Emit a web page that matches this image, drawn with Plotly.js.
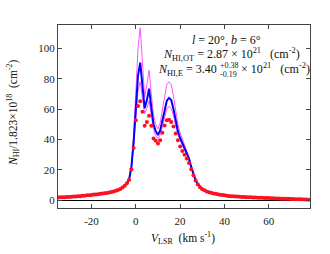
<!DOCTYPE html>
<html>
<head>
<meta charset="utf-8">
<script src="https://cdn.plot.ly/plotly-3.0.1.min.js"></script>
<style>html,body{margin:0;padding:0;background:#fff;}#chart{width:330px;height:254px;}</style>
</head>
<body>
<div id="chart"></div>
<script>
// Velocity channels (km/s)
const vel = [-35,-34,-33,-32,-31,-30,-29,-28,-27,-26,-25,-24,-23,-22,-21,-20,-19,-18,-17,-16,-15,-14,-13,-12,-11,-10,-9,-8,-7,-6,-5,-4,
  -3,-2,-1,0,1,2,3,4,5,6,7,8,9,10,11,12,13,14,15,16,17,18,19,20,21,22,23,24,25,26,27,28,29,30,
  31,32,33,34,35,36,37,38,39,40,41,42,43,44,45,46,47,48,49,50,51,52,53,54,55,56,57,58,59,60,61,62,63,64,65,66,67,68,69,70,71,72,73,74,75,76,77,78];

// Red dots: optically-thin column density
const nObs = [1.9,2.0,2.0,2.1,2.2,2.3,2.4,2.5,2.6,2.7,2.8,3.0,3.1,3.3,3.4,3.6,3.8,3.9,4.1,4.3,4.5,4.7,4.9,5.2,5.5,5.9,6.3,6.8,7.5,8.4,9.6,11.3,
  13.5,20.5,34.5,52.7,62,65.2,58.2,49,51.6,55.6,49,40.7,39.2,37.4,39.6,44.4,49.2,52.7,53,51.5,48.5,44,39.5,35.5,32.5,30,27.5,24.5,20.5,16.5,13,10.5,8.6,7.4,
  6.6,5.9,5.4,5.0,4.6,4.3,4.0,3.7,3.5,3.3,3.1,2.9,2.8,2.7,2.6,2.5,2.4,2.3,2.2,2.1,2.0,2.0,1.9,1.9,1.8,1.8,1.7,1.6,1.6,1.5,1.4,1.4,1.3,1.3,1.2,1.1,1.1,1.0,1.0,0.9,0.9,0.8,0.8,0.7,0.7,0.6,0.6,0.5];

// Blue line: estimated column density (best value)
const nBest = [1.9,2.0,2.0,2.1,2.2,2.3,2.4,2.5,2.6,2.7,2.8,3.0,3.1,3.3,3.4,3.6,3.8,3.9,4.1,4.3,4.5,4.7,4.9,5.2,5.5,5.9,6.3,6.8,7.5,8.4,9.6,11.3,
  14,21.5,38,62,82,90.6,75,60.5,66,73.5,61,50,45.5,43,46,53,60,65.5,67.4,66,60,52,45.5,41,37.5,34.5,31.5,27.5,22,17,13.2,10.6,8.7,7.5,
  6.6,5.9,5.4,5.0,4.6,4.3,4.0,3.7,3.5,3.3,3.1,2.9,2.8,2.7,2.6,2.5,2.4,2.3,2.2,2.1,2.0,2.0,1.9,1.9,1.8,1.8,1.7,1.6,1.6,1.5,1.4,1.4,1.3,1.3,1.2,1.1,1.1,1.0,1.0,0.9,0.9,0.8,0.8,0.7,0.7,0.6,0.6,0.5];

// Magenta lines: upper and lower bounds
const nUpper = [1.9,2.0,2.0,2.1,2.2,2.3,2.4,2.5,2.6,2.7,2.8,3.0,3.1,3.3,3.4,3.6,3.8,3.9,4.1,4.3,4.5,4.7,4.9,5.2,5.5,5.9,6.3,6.8,7.5,8.4,9.6,11.3,
  14.5,22.5,42,72,100,113.5,92,68,76,85.5,70,56,50,47,51,60,70,76.5,78,76,68.5,58.5,50,44.5,40.5,36.5,33,28.5,23,17.5,13.3,10.7,8.8,7.6,
  6.6,5.9,5.4,5.0,4.6,4.3,4.0,3.7,3.5,3.3,3.1,2.9,2.8,2.7,2.6,2.5,2.4,2.3,2.2,2.1,2.0,2.0,1.9,1.9,1.8,1.8,1.7,1.6,1.6,1.5,1.4,1.4,1.3,1.3,1.2,1.1,1.1,1.0,1.0,0.9,0.9,0.8,0.8,0.7,0.7,0.6,0.6,0.5];
const nLower = [1.9,2.0,2.0,2.1,2.2,2.3,2.4,2.5,2.6,2.7,2.8,3.0,3.1,3.3,3.4,3.6,3.8,3.9,4.1,4.3,4.5,4.7,4.9,5.2,5.5,5.9,6.3,6.8,7.5,8.4,9.6,11.3,
  13.8,21,36,56,72,78,66,57,60.5,65.5,56,46.5,42.5,40.5,43,49,55,60,62,60.5,55.5,48.5,43,39.5,36,33,30.5,26.5,21.3,16.6,12.9,10.5,8.6,7.4,
  6.6,5.9,5.4,5.0,4.6,4.3,4.0,3.7,3.5,3.3,3.1,2.9,2.8,2.7,2.6,2.5,2.4,2.3,2.2,2.1,2.0,2.0,1.9,1.9,1.8,1.8,1.7,1.6,1.6,1.5,1.4,1.4,1.3,1.3,1.2,1.1,1.1,1.0,1.0,0.9,0.9,0.8,0.8,0.7,0.7,0.6,0.6,0.5];

const xTickVals = [-20, 0, 20, 40, 60];
const xTickText = ['-20', '0', '20', '40', '60'];
const yTickVals = [0, 20, 40, 60, 80, 100];
const yTickText = ['0', '20', '40', '60', '80', '100'];

const serif = 'Liberation Serif, Times New Roman, serif';
const traces = [
  {x: vel, y: nUpper, mode: 'lines', line: {color: '#ff55ff', width: 1}, hoverinfo: 'skip'},
  {x: vel, y: nLower, mode: 'lines', line: {color: '#ff55ff', width: 1}, hoverinfo: 'skip'},
  {x: vel, y: nBest, mode: 'lines', line: {color: '#0000ff', width: 2}, hoverinfo: 'skip'},
  {x: vel, y: nObs, mode: 'markers', marker: {color: '#ff1020', size: 4}, hoverinfo: 'skip'}
];

const axisCommon = {
  showline: true, linecolor: '#444', linewidth: 1, mirror: 'ticks',
  ticks: 'inside', ticklen: 4, tickcolor: '#444', tickwidth: 1,
  showgrid: false, tickfont: {family: serif, size: 11, color: '#222'}
};

const X = px => (px - 58) / 252;
const Y = py => (208 - py) / 183;
const f = {family: serif, size: 12, color: '#111'};
const fs = {family: serif, size: 8, color: '#111'};
const sp = '\u00a0';

const layout = {
  width: 330, height: 254,
  margin: {l: 58, r: 20, t: 25, b: 46},
  paper_bgcolor: '#fff', plot_bgcolor: '#fff',
  showlegend: false,
  xaxis: Object.assign({}, axisCommon, {range: [-35.1, 78.6], tickvals: xTickVals, ticktext: xTickText, zeroline: false,
    ticklabelstandoff: 3}),
  yaxis: Object.assign({}, axisCommon, {range: [-5, 115.3], tickvals: yTickVals, ticktext: yTickText,
    zeroline: true, zerolinecolor: '#000', zerolinewidth: 1.5}),
  annotations: [
    {xref: 'paper', yref: 'paper', x: X(13), y: Y(113), text: '<i>N</i><sub>HI</sub>/1.823×10<sup>18</sup>' + sp + sp + '(cm<sup>-2</sup>)',
      textangle: -90, showarrow: false, font: {family: serif, size: 11.5, color: '#111'}, xanchor: 'center', yanchor: 'middle'},
    {xref: 'paper', yref: 'paper', x: X(183), y: Y(238), text: '<i>V</i><sub>LSR</sub>' + sp + sp + '(km s<sup>-1</sup>)',
      showarrow: false, font: {family: serif, size: 11.5, color: '#111'}, xanchor: 'center', yanchor: 'middle'},
    {xref: 'paper', yref: 'paper', x: X(226.5), y: Y(39.5), text: '<i>l</i> = 20°, <i>b</i> = 6°',
      showarrow: false, font: f, xanchor: 'center', yanchor: 'middle'},
    {xref: 'paper', yref: 'paper', x: X(302), y: Y(55), 
      text: '<i>N</i><sub>HI,OT</sub> = 2.87 × 10<sup>21</sup>' + sp + sp + sp + '(cm<sup>-2</sup>)',
      showarrow: false, font: f, xanchor: 'right', yanchor: 'middle'},
    {xref: 'paper', yref: 'paper', x: X(220.5), y: Y(69.5),
      text: '<i>N</i><sub>HI,E</sub> = 3.40<sup>' + sp + '</sup>',
      showarrow: false, font: f, xanchor: 'right', yanchor: 'middle'},
    {xref: 'paper', yref: 'paper', x: X(237), y: Y(69.5),
      text: '<sub>' + sp + '</sub>× 10<sup>21</sup>' + sp + sp + sp + '(cm<sup>-2</sup>)',
      showarrow: false, font: f, xanchor: 'left', yanchor: 'middle'},
    {xref: 'paper', yref: 'paper', x: X(218), y: Y(65), text: '+0.38',
      showarrow: false, font: fs, xanchor: 'left', yanchor: 'middle'},
    {xref: 'paper', yref: 'paper', x: X(218), y: Y(74), text: '-0.19',
      showarrow: false, font: fs, xanchor: 'left', yanchor: 'middle'}
  ]
};

Plotly.newPlot('chart', traces, layout, {displayModeBar: false, staticPlot: true});
</script>
</body>
</html>
